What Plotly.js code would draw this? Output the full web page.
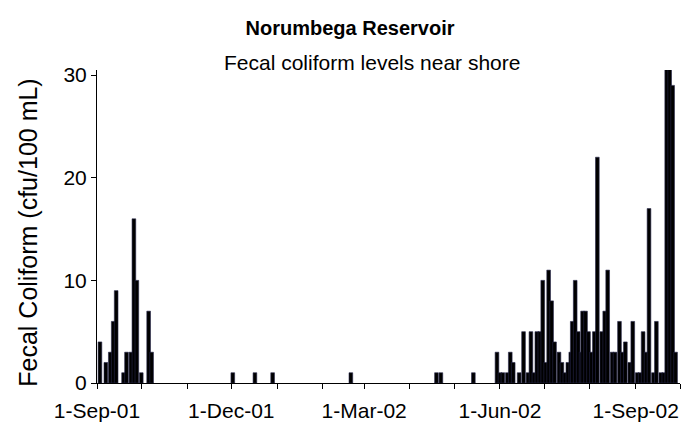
<!DOCTYPE html>
<html>
<head>
<meta charset="utf-8">
<script src="https://cdn.plot.ly/plotly-3.0.1.min.js"></script>
<style>html,body{margin:0;padding:0;background:#fff;}#chart{width:681px;height:428px;}</style>
</head>
<body>
<div id="chart"></div>
<script>
// Sample dates and fecal coliform values (cfu/100 mL); values above 30 run off the chart
const sampleDates = [
  "2001-09-03","2001-09-07","2001-09-10","2001-09-12","2001-09-14","2001-09-19","2001-09-21","2001-09-24",
  "2001-09-27","2001-09-26","2001-09-28","2001-10-01","2001-10-06","2001-10-08",
  "2001-12-02","2001-12-17","2001-12-29","2002-02-20","2002-04-19","2002-04-22","2002-05-14",
  "2002-05-30","2002-06-01","2002-06-03","2002-06-06","2002-06-08","2002-06-10","2002-06-14","2002-06-17",
  "2002-06-20","2002-06-22","2002-06-24","2002-06-26","2002-06-28","2002-06-30","2002-07-02","2002-07-04",
  "2002-07-06","2002-07-08","2002-07-11","2002-07-13","2002-07-15","2002-07-17","2002-07-19","2002-07-20",
  "2002-07-22","2002-07-24","2002-07-26","2002-07-27","2002-07-29","2002-07-31","2002-08-02","2002-08-04",
  "2002-08-06","2002-08-09","2002-08-11","2002-08-13","2002-08-16","2002-08-18","2002-08-21","2002-08-23",
  "2002-08-25","2002-08-28","2002-08-30","2002-09-02","2002-09-04","2002-09-06","2002-09-08","2002-09-10",
  "2002-09-13","2002-09-15","2002-09-18","2002-09-20","2002-09-22","2002-09-24","2002-09-26","2002-09-28"
];
const fecalColiform = [
  4,2,3,6,9,1,3,3,
  3,16,10,1,7,3,
  1,1,1,1,1,1,1,
  3,1,1,1,3,2,1,5,
  1,5,1,5,5,10,2,11,
  8,4,3,2,1,2,3,6,
  10,5,3,7,7,5,3,5,
  22,5,7,11,3,3,6,3,
  4,2,6,1,1,5,3,17,
  1,6,1,1,40,40,29,3
];
const monthTicks = [
  "2001-09-01","2001-10-01","2001-11-01","2001-12-01","2002-01-01","2002-02-01","2002-03-01",
  "2002-04-01","2002-05-01","2002-06-01","2002-07-01","2002-08-01","2002-09-01","2002-10-01"
];
const monthTickText = ["1-Sep-01","","","1-Dec-01","","","1-Mar-02","","","1-Jun-02","","","1-Sep-02",""];
const yTicks = [0,10,20,30];

const FONT = "Liberation Sans, Arial, sans-serif";
const DAY = 86400000;

const trace = {
  type: "bar",
  x: sampleDates,
  y: fecalColiform,
  width: sampleDates.map(() => 2.5 * DAY),
  marker: {color: "#000000", line: {color: "#26264a", width: 0.6}},
  hoverinfo: "x+y"
};

const layout = {
  width: 681, height: 428,
  paper_bgcolor: "#ffffff", plot_bgcolor: "#ffffff",
  margin: {l: 97, r: 1, t: 70, b: 44.5, autoexpand: false},
  font: {family: FONT, color: "#000000", size: 21},
  showlegend: false,
  bargap: 0,
  title: {
    text: "<b>Norumbega Reservoir</b>",
    font: {family: FONT, size: 20, color: "#000"},
    x: 350/681, xanchor: "center", xref: "container",
    y: 1 - 28/428, yanchor: "middle", yref: "container"
  },
  annotations: [{
    text: "Fecal coliform levels near shore",
    xref: "paper", yref: "paper",
    x: (372 - 97) / 583, y: 1 + (70 - 62) / 313.5,
    xanchor: "center", yanchor: "middle",
    showarrow: false,
    font: {family: FONT, size: 21, color: "#000"}
  }, {
    text: "Fecal Coliform (cfu/100 mL)",
    textangle: -90,
    xref: "paper", yref: "paper",
    x: (28 - 97) / 583, y: (383.5 - 233) / 313.5,
    xanchor: "center", yanchor: "middle",
    showarrow: false,
    font: {family: FONT, size: 25, color: "#000"}
  }],
  xaxis: {
    type: "date",
    range: ["2001-09-01", "2002-10-01"],
    tickmode: "array",
    tickvals: monthTicks,
    ticktext: monthTickText,
    ticks: "outside", ticklen: 5, tickcolor: "#000", tickwidth: 1,
    ticklabelstandoff: 4,
    showline: true, linecolor: "#000", linewidth: 1,
    showgrid: false, zeroline: false,
    tickfont: {family: FONT, size: 21, color: "#000"},
    fixedrange: true
  },
  yaxis: {
    range: [0, 30.5],
    tickmode: "array",
    tickvals: yTicks,
    ticks: "outside", ticklen: 5, tickcolor: "#000", tickwidth: 1,
    showline: true, linecolor: "#000", linewidth: 1,
    showgrid: false, zeroline: false,
    tickfont: {family: FONT, size: 21, color: "#000"},
    fixedrange: true
  }
};

Plotly.newPlot("chart", [trace], layout, {displayModeBar: false, staticPlot: true});
</script>
</body>
</html>
